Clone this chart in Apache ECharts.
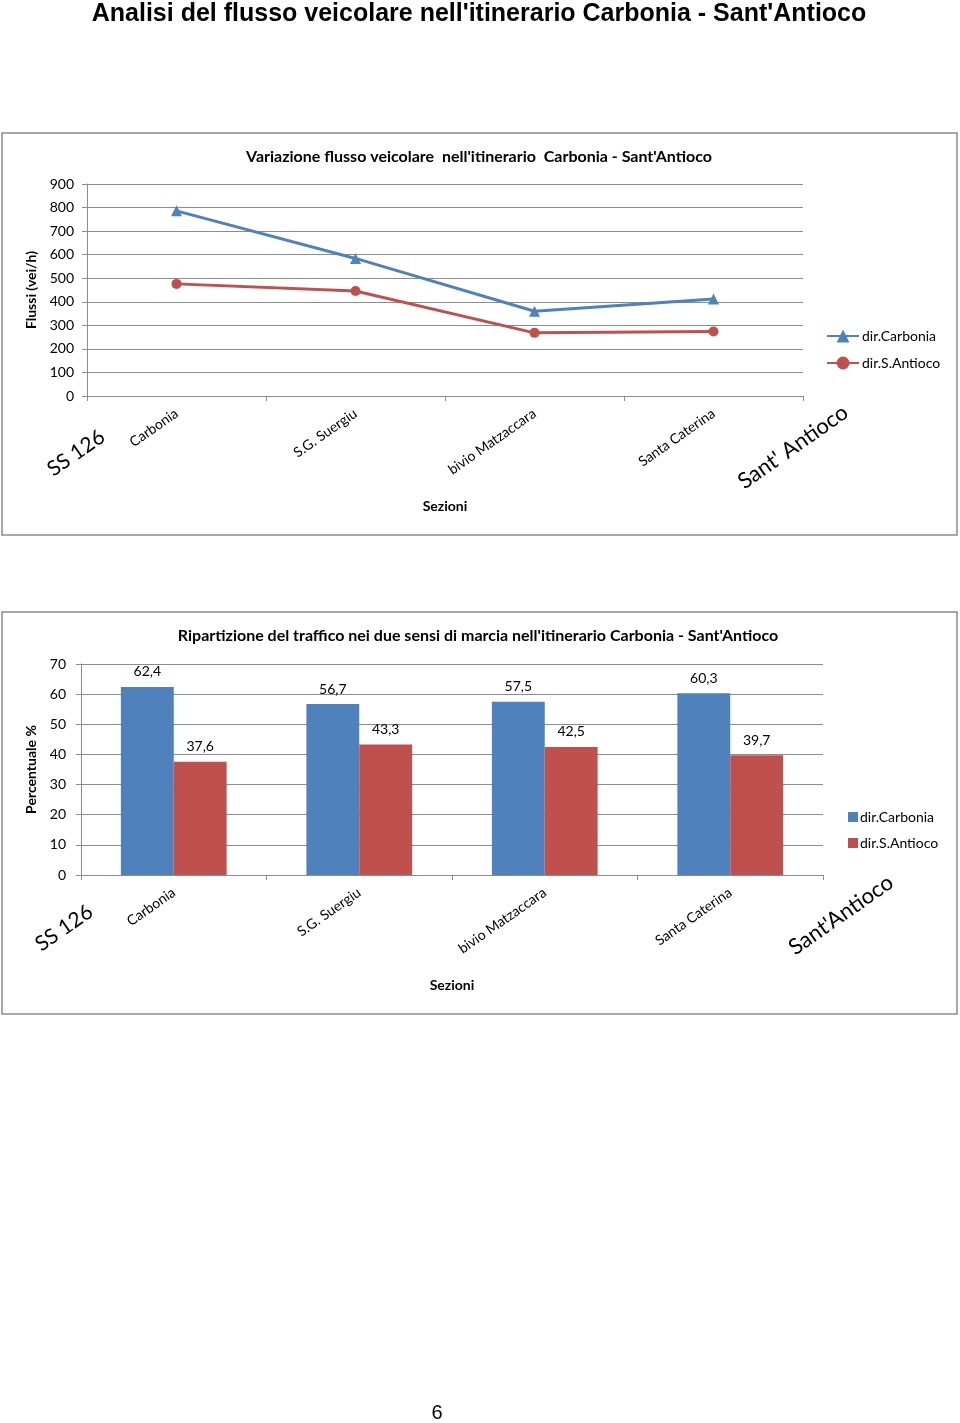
<!DOCTYPE html>
<html>
<head>
<meta charset="utf-8">
<script src="https://cdn.jsdelivr.net/npm/echarts@6/dist/echarts.min.js"></script>
<style>
html,body{margin:0;padding:0;background:#fff;}
#c{width:960px;height:1423px;}
</style>
</head>
<body>
<div id="c"></div>
<script>
// ---- data ----
const categories = ['Carbonia', 'S.G. Suergiu', 'bivio Matzaccara', 'Santa Caterina'];
const flowCarbonia = [786, 584, 360, 412];
const flowSAntioco = [476, 446, 268, 274];
const pctCarbonia = [62.4, 56.7, 57.5, 60.3];
const pctSAntioco = [37.6, 43.3, 42.5, 39.7];
const flowTicks = {min: 0, max: 900, interval: 100};
const pctTicks = {min: 0, max: 70, interval: 10};
const seriesNames = ['dir.Carbonia', 'dir.S.Antioco'];

const BLUE = '#4F81BD', RED = '#C0504D', GRID = '#8c8c8c';
const FONT = 'Lato';
const deg = Math.PI / 180;

const chart = echarts.init(document.getElementById('c'), null, {renderer: 'canvas'});

function xAxisCfg(gridIndex) {
  return {
    type: 'category', gridIndex, data: categories, boundaryGap: true,
    axisLine: {show: true, lineStyle: {color: GRID, width: 1}},
    axisTick: {show: true, length: 5, lineStyle: {color: GRID}},
    axisLabel: {rotate: 35, margin: 16, color: '#000', fontFamily: FONT, fontSize: 14},
    name: 'Sezioni', nameLocation: 'middle', nameGap: 103,
    nameTextStyle: {fontFamily: FONT, fontWeight: 'bold', fontSize: 14, color: '#000'}
  };
}
function yAxisCfg(gridIndex, t, name, nameGap, margin) {
  return {
    type: 'value', gridIndex, min: t.min, max: t.max, interval: t.interval,
    axisLine: {show: true, lineStyle: {color: GRID}},
    axisTick: {show: true, length: 5, lineStyle: {color: GRID}},
    splitLine: {show: true, lineStyle: {color: GRID, width: 1}},
    axisLabel: {color: '#000', fontFamily: FONT, fontSize: 14, margin},
    name, nameLocation: 'middle', nameGap, nameRotate: 90,
    nameTextStyle: {fontFamily: FONT, fontWeight: 'bold', fontSize: 14, color: '#000'}
  };
}
const fmt = p => p.value.toFixed(1).replace('.', ',');

function rotText(text, x, y, size) {
  return {type: 'text', x, y, rotation: 35 * deg,
    style: {text, x: 0, y: 0, align: 'center', verticalAlign: 'middle',
      font: size + 'px ' + FONT, fill: '#000'}};
}

const option = {
  animation: false,
  backgroundColor: '#fff',
  title: [
    {text: "Analisi del flusso veicolare nell'itinerario Carbonia - Sant'Antioco", left: 474, textAlign: 'center', top: -3,
      textStyle: {fontFamily: 'Liberation Sans', fontWeight: 'bold', fontSize: 25, color: '#000'}},
    {text: "Variazione flusso veicolare  nell'itinerario  Carbonia - Sant'Antioco", left: 474, textAlign: 'center', top: 144,
      textStyle: {fontFamily: FONT, fontWeight: 'bold', fontSize: 16, color: '#000'}},
    {text: "Ripartizione del traffico nei due sensi di marcia nell'itinerario Carbonia - Sant'Antioco", left: 473, textAlign: 'center', top: 623,
      textStyle: {fontFamily: FONT, fontWeight: 'bold', fontSize: 16, color: '#000'}}
  ],
  grid: [
    {left: 87, width: 716, top: 184, height: 212},
    {left: 81, width: 742, top: 664, height: 211}
  ],
  xAxis: [xAxisCfg(0), xAxisCfg(1)],
  yAxis: [
    yAxisCfg(0, flowTicks, 'Flussi (vei/h)', 49, 13),
    yAxisCfg(1, pctTicks, 'Percentuale %', 43, 15)
  ],
  legend: [
    {orient: 'vertical', left: 821, top: 324, itemGap: 13, itemWidth: 32, itemHeight: 16,
      textStyle: {fontFamily: FONT, fontSize: 14, color: '#000', padding: [0, 0, 0, -2]},
      data: [{name: seriesNames[0]}, {name: seriesNames[1]}]},
    {orient: 'vertical', left: 843, top: 805, itemGap: 12, itemWidth: 10, itemHeight: 10, icon: 'rect',
      textStyle: {fontFamily: FONT, fontSize: 14, color: '#000', padding: [0, 0, 0, -3]},
      data: [{name: seriesNames[0] + ' '}, {name: seriesNames[1] + ' '}],
      formatter: n => n.trim()}
  ],
  series: [
    {name: seriesNames[0], type: 'line', xAxisIndex: 0, yAxisIndex: 0, data: flowCarbonia,
      symbol: 'triangle', symbolSize: 11, lineStyle: {color: BLUE, width: 3}, itemStyle: {color: BLUE}},
    {name: seriesNames[1], type: 'line', xAxisIndex: 0, yAxisIndex: 0, data: flowSAntioco,
      symbol: 'circle', symbolSize: 10, lineStyle: {color: RED, width: 3}, itemStyle: {color: RED}},
    {name: seriesNames[0] + ' ', type: 'bar', xAxisIndex: 1, yAxisIndex: 1, data: pctCarbonia,
      barGap: '0%', barCategoryGap: '43%', itemStyle: {color: BLUE},
      label: {show: true, position: 'top', distance: 8, formatter: fmt, fontFamily: FONT, fontSize: 14, color: '#000'}},
    {name: seriesNames[1] + ' ', type: 'bar', xAxisIndex: 1, yAxisIndex: 1, data: pctSAntioco,
      barGap: '0%', barCategoryGap: '43%', itemStyle: {color: RED},
      label: {show: true, position: 'top', distance: 8, formatter: fmt, fontFamily: FONT, fontSize: 14, color: '#000'}}
  ],
  graphic: [
    {type: 'rect', shape: {x: 2, y: 133, width: 955, height: 402}, style: {fill: 'none', stroke: '#8c8c8c', lineWidth: 1.5}, z: -1},
    {type: 'rect', shape: {x: 2, y: 612, width: 955, height: 402}, style: {fill: 'none', stroke: '#8c8c8c', lineWidth: 1.5}, z: -1},
    rotText('SS 126', 76, 453, 21),
    rotText("Sant' Antioco", 793, 447, 22),
    rotText('SS 126', 64, 928, 21),
    rotText("Sant'Antioco", 841, 915, 22),
    {type: 'text', x: 437, y: 1413, style: {text: '6', x: 0, y: 0, align: 'center', verticalAlign: 'middle',
      font: '20px Liberation Sans', fill: '#000'}}
  ]
};
chart.setOption(option);
</script>
</body>
</html>
